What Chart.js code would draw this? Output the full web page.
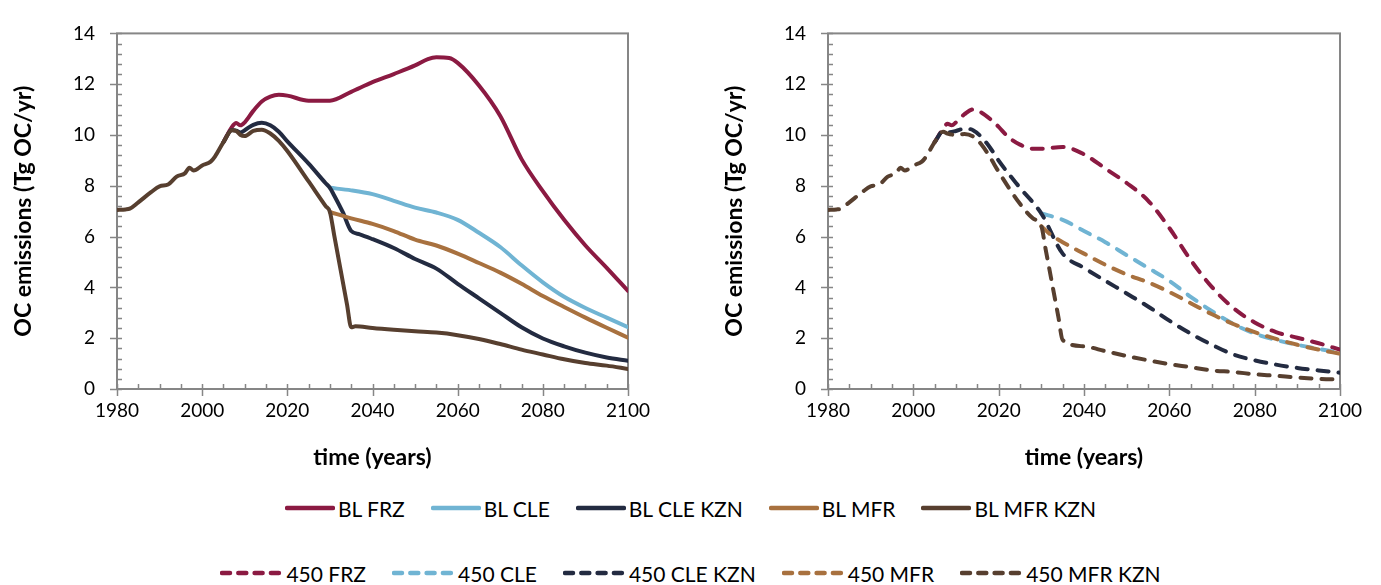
<!DOCTYPE html>
<html>
<head>
<meta charset="utf-8">
<script src="https://cdn.jsdelivr.net/npm/chart.js@4.4.1/dist/chart.umd.min.js"></script>
<style>
  body { margin: 0; background: #fff; width: 1381px; height: 585px; overflow: hidden; position: relative; font-family: Lato, sans-serif; }
  #left { position: absolute; left: 0; top: 0; }
  #right { position: absolute; left: 690px; top: 0; }
  .legend { position: absolute; left: 0; width: 1381px; display: flex; justify-content: center; align-items: center; font-size: 21px; color: #000; }
  .item { display: flex; align-items: center; margin: 0 13px; white-space: nowrap; }
  .item svg { margin-right: 3px; }
</style>
</head>
<body>
<canvas id="left" width="690" height="480"></canvas>
<canvas id="right" width="691" height="480"></canvas>
<div class="legend" id="legendBL" style="top:494px;height:28px"></div>
<div class="legend" id="legend450" style="top:559px;height:28px"></div>

<script>
// shared history 1980-2005 (identical in both panels)
const historyYears  = [1980, 1982, 1983, 1985, 1988, 1990, 1992, 1994, 1996, 1997, 1998, 2000, 2002, 2003, 2005];
const historyValues = [7.05, 7.07, 7.1, 7.35, 7.75, 7.98, 8.05, 8.36, 8.5, 8.71, 8.6, 8.8, 8.95, 9.15, 9.72];

// left panel: baseline scenarios
const blFrzYears  = [2005, 2007, 2008, 2009, 2010, 2012, 2014, 2016, 2018, 2020, 2025, 2030, 2035, 2040, 2045, 2050, 2053, 2055, 2058, 2060, 2065, 2070, 2075, 2080, 2085, 2090, 2095, 2100];
const blFrzValues = [9.72, 10.32, 10.47, 10.38, 10.5, 10.95, 11.32, 11.51, 11.58, 11.55, 11.35, 11.35, 11.7, 12.08, 12.4, 12.74, 12.99, 13.06, 13.03, 12.84, 11.95, 10.75, 9.05, 7.79, 6.66, 5.65, 4.77, 3.86];

const blCleYears  = [2030, 2035, 2040, 2045, 2050, 2055, 2060, 2065, 2070, 2075, 2080, 2085, 2090, 2095, 2100];
const blCleValues = [7.92, 7.82, 7.67, 7.41, 7.14, 6.95, 6.66, 6.15, 5.59, 4.87, 4.2, 3.63, 3.19, 2.81, 2.43];

const blCleKznYears  = [2005, 2007, 2008, 2009, 2010, 2012, 2014, 2016, 2018, 2020, 2025, 2029, 2030, 2031, 2033, 2035, 2037, 2040, 2045, 2050, 2055, 2060, 2065, 2070, 2075, 2080, 2085, 2090, 2095, 2100];
const blCleKznValues = [9.72, 10.2, 10.17, 10.1, 10.19, 10.4, 10.48, 10.38, 10.13, 9.75, 8.87, 8.1, 7.92, 7.62, 6.97, 6.22, 6.09, 5.9, 5.55, 5.12, 4.74, 4.14, 3.57, 3.0, 2.43, 1.99, 1.68, 1.43, 1.24, 1.11];

const blMfrYears  = [2030, 2035, 2040, 2045, 2050, 2055, 2060, 2065, 2070, 2075, 2080, 2085, 2090, 2095, 2100];
const blMfrValues = [6.97, 6.72, 6.5, 6.22, 5.88, 5.65, 5.33, 4.96, 4.58, 4.14, 3.66, 3.23, 2.81, 2.41, 2.02];

const blMfrKznYears  = [2007, 2008, 2009, 2010, 2012, 2014, 2016, 2018, 2020, 2025, 2029, 2030, 2031, 2034, 2035, 2036, 2040, 2045, 2050, 2055, 2060, 2065, 2070, 2075, 2080, 2085, 2090, 2095, 2100];
const blMfrKznValues = [10.19, 10.16, 10.0, 9.96, 10.16, 10.21, 10.06, 9.77, 9.37, 8.17, 7.2, 6.97, 6.06, 3.34, 2.43, 2.47, 2.4, 2.33, 2.27, 2.22, 2.12, 1.97, 1.77, 1.55, 1.36, 1.17, 1.02, 0.92, 0.79];

// right panel: 450 scenarios
const frz450Years  = [2005, 2007, 2008, 2009, 2010, 2012, 2014, 2016, 2018, 2020, 2022, 2025, 2028, 2030, 2035, 2040, 2045, 2050, 2055, 2060, 2065, 2070, 2075, 2080, 2085, 2090, 2095, 2100];
const frz450Values = [9.72, 10.25, 10.44, 10.38, 10.5, 10.82, 11.01, 10.88, 10.63, 10.32, 9.96, 9.62, 9.46, 9.46, 9.53, 9.24, 8.68, 8.11, 7.42, 6.34, 5.08, 4.01, 3.19, 2.62, 2.24, 2.02, 1.8, 1.55];

const cle450Years  = [2030, 2035, 2040, 2045, 2050, 2055, 2060, 2065, 2070, 2075, 2080, 2085, 2090, 2095, 2100];
const cle450Values = [6.91, 6.66, 6.22, 5.78, 5.27, 4.77, 4.26, 3.63, 3.06, 2.56, 2.18, 1.93, 1.74, 1.58, 1.43];

const cleKzn450Years  = [2005, 2007, 2008, 2010, 2012, 2014, 2016, 2018, 2020, 2025, 2030, 2035, 2040, 2045, 2050, 2055, 2060, 2065, 2070, 2075, 2080, 2085, 2090, 2095, 2100];
const cleKzn450Values = [9.72, 10.15, 10.1, 10.16, 10.25, 10.19, 9.91, 9.5, 8.99, 7.92, 6.91, 5.33, 4.77, 4.26, 3.76, 3.25, 2.69, 2.18, 1.74, 1.36, 1.13, 0.96, 0.83, 0.73, 0.64];

const mfr450Years  = [2030, 2032, 2035, 2040, 2045, 2050, 2055, 2060, 2065, 2070, 2075, 2080, 2085, 2090, 2095, 2100];
const mfr450Values = [6.41, 6.1, 5.78, 5.33, 4.89, 4.51, 4.2, 3.82, 3.38, 2.94, 2.56, 2.24, 1.97, 1.74, 1.55, 1.39];

const mfrKzn450Years  = [2007, 2008, 2010, 2012, 2014, 2016, 2018, 2020, 2025, 2028, 2030, 2031, 2034, 2035, 2040, 2045, 2050, 2055, 2060, 2065, 2070, 2075, 2080, 2085, 2090, 2095, 2100];
const mfrKzn450Values = [10.13, 10.06, 10.0, 10.04, 9.94, 9.62, 9.12, 8.55, 7.29, 6.72, 6.41, 5.51, 2.83, 1.93, 1.68, 1.49, 1.3, 1.13, 0.98, 0.86, 0.73, 0.67, 0.58, 0.52, 0.45, 0.4, 0.38];

const blLabels  = ['BL FRZ', 'BL CLE', 'BL CLE KZN', 'BL MFR', 'BL MFR KZN'];
const labels450 = ['450 FRZ', '450 CLE', '450 CLE KZN', '450 MFR', '450 MFR KZN'];
const colores   = ['#8B1A42', '#70B4D3', '#232B41', '#A8713F', '#573F2F'];

const xTicks = [1980, 2000, 2020, 2040, 2060, 2080, 2100];

function puntos(years, values) {
  return years.map((yr, i) => ({ x: yr, y: values[i] }));
}

Chart.defaults.font.family = 'Lato, sans-serif';
Chart.defaults.color = '#000';

// plot frame + major/minor tick marks like the original
const marcoEjes = {
  id: 'marcoEjes',
  beforeDatasetsDraw(chart) {
    const { ctx, chartArea: a, scales: { x, y } } = chart;
    ctx.save();
    ctx.strokeStyle = '#868686';
    ctx.lineWidth = 2;
    ctx.strokeRect(a.left, a.top, a.right - a.left, a.bottom - a.top);
    ctx.lineWidth = 1.5;
    ctx.beginPath();
    for (let i = 0; i <= 35; i++) {
      const py = Math.round(y.getPixelForValue(i * 0.4)) + 0.5;
      const major = i % 5 === 0;
      ctx.moveTo(a.left - (major ? 7 : 0), py);
      ctx.lineTo(a.left + 5, py);
    }
    for (let yr = 1980; yr <= 2100; yr += 5) {
      const px = Math.round(x.getPixelForValue(yr)) + 0.5;
      const major = yr % 20 === 0;
      ctx.moveTo(px, a.bottom + (major ? 7 : 0));
      ctx.lineTo(px, a.bottom - 5);
    }
    ctx.stroke();
    ctx.restore();
  }
};

function serie(label, color, data, order, dashed) {
  return {
    label: label,
    data: data,
    borderColor: color,
    backgroundColor: color,
    borderWidth: 4,
    borderDash: dashed ? [11, 10] : [],
    borderCapStyle: 'round',
    borderJoinStyle: 'round',
    pointRadius: 0,
    fill: false,
    cubicInterpolationMode: 'monotone',
    order: order
  };
}

function crearGrafico(id, datasets, opts) {
  new Chart(document.getElementById(id), {
    type: 'line',
    data: { datasets: datasets },
    options: {
      responsive: false,
      animation: false,
      events: [],
      layout: { padding: { left: 0, right: opts.padRight, top: 21, bottom: 0 } },
      plugins: { legend: { display: false }, tooltip: { enabled: false } },
      scales: {
        x: {
          type: 'linear',
          min: 1980, max: 2100,
          afterBuildTicks: s => { s.ticks = xTicks.map(v => ({ value: v })); },
          afterFit: s => { s.height = 91; },
          grid: { display: false, drawTicks: false },
          border: { display: false },
          ticks: { font: { size: 19 }, padding: 10, maxRotation: 0, callback: v => String(v) },
          title: { display: true, text: 'time (years)', font: { size: 23, weight: 'bold' }, padding: { top: 0, bottom: 9 } }
        },
        y: {
          min: 0, max: 14,
          ticks: { stepSize: 2, font: { size: 19 }, padding: 22 },
          afterFit: s => { s.width = opts.yWidth; },
          grid: { display: false, drawTicks: false },
          border: { display: false },
          title: { display: true, text: 'OC emissions (Tg OC/yr)', font: { size: 23, weight: 'bold' }, padding: { top: opts.titlePad, bottom: 0 } }
        }
      }
    },
    plugins: [marcoEjes]
  });
}

const historia = puntos(historyYears, historyValues);

crearGrafico('left', [
  serie(blLabels[0], colores[0], puntos(blFrzYears, blFrzValues), 5, false),
  serie(blLabels[1], colores[1], puntos(blCleYears, blCleValues), 4, false),
  serie(blLabels[2], colores[2], puntos(blCleKznYears, blCleKznValues), 3, false),
  serie(blLabels[3], colores[3], puntos(blMfrYears, blMfrValues), 2, false),
  serie(blLabels[4], colores[4], historia.concat(puntos(blMfrKznYears, blMfrKznValues)), 1, false)
], { padRight: 62, yWidth: 117, titlePad: 10 });

crearGrafico('right', [
  serie(labels450[0], colores[0], puntos(frz450Years, frz450Values), 5, true),
  serie(labels450[1], colores[1], puntos(cle450Years, cle450Values), 4, true),
  serie(labels450[2], colores[2], puntos(cleKzn450Years, cleKzn450Values), 3, true),
  serie(labels450[3], colores[3], puntos(mfr450Years, mfr450Values), 2, true),
  serie(labels450[4], colores[4], historia.concat(puntos(mfrKzn450Years, mfrKzn450Values)), 1, true)
], { padRight: 41, yWidth: 138, titlePad: 31 });

// legends (HTML, below both panels)
function leyenda(id, labels, dashed) {
  const cont = document.getElementById(id);
  const w = dashed ? 63 : 50;
  labels.forEach((txt, i) => {
    const item = document.createElement('div');
    item.className = 'item';
    const dash = dashed ? ' stroke-dasharray="8 8.3"' : '';
    item.innerHTML = '<svg width="' + w + '" height="8"><line x1="2" y1="4" x2="' + (w - 2) + '" y2="4" stroke="' + colores[i] +
      '" stroke-width="4.5" stroke-linecap="round"' + dash + '/></svg><span>' + txt + '</span>';
    cont.appendChild(item);
  });
}
leyenda('legendBL', blLabels, false);
leyenda('legend450', labels450, true);
</script>
</body>
</html>
